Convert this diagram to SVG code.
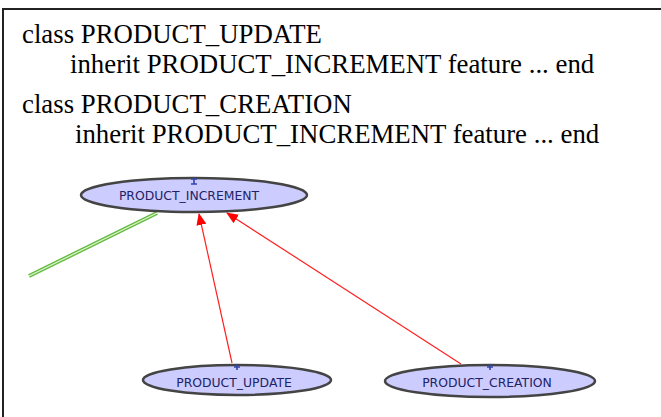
<svg xmlns="http://www.w3.org/2000/svg" width="661" height="417" viewBox="0 0 661 417">
<style>
.code{font-family:"Liberation Serif","Times New Roman",serif;font-size:26.8px;fill:#000}
.node ellipse{fill:#ccccff;stroke:#444;stroke-width:2.5}
.node text{font-family:"DejaVu Sans","Liberation Sans",sans-serif;font-size:12.4px;fill:#222266;text-anchor:middle}
.mark{stroke:#3344aa;stroke-width:1.6}
.inh{stroke:#ff2020;stroke-width:1.2;fill:none;marker-end:url(#ah)}
</style>
<defs>
<marker id="ah" viewBox="0 0 12 10" refX="11" refY="5" markerWidth="12" markerHeight="10" markerUnits="userSpaceOnUse" orient="auto">
<path d="M0,0 L12,5 L0,10 z" fill="#ff0000"/>
</marker>
</defs>
<rect width="661" height="417" fill="#fff"/>
<path d="M3,417 V9 H661" fill="none" stroke="#222" stroke-width="2"/>
<g id="code-text">
<text class="code" x="22" y="43">class PRODUCT_UPDATE</text>
<text class="code" x="70" y="73">inherit PRODUCT_INCREMENT feature ... end</text>
<text class="code" x="22" y="113">class PRODUCT_CREATION</text>
<text class="code" x="75" y="143">inherit PRODUCT_INCREMENT feature ... end</text>
</g>
<g id="connectors">
<line x1="157" y1="213" x2="29" y2="276" stroke="#66bb44" stroke-width="4"/>
<line x1="157" y1="213" x2="29" y2="276" stroke="#ddf5cc" stroke-width="1.2"/>
<line class="inh" x1="232" y1="363" x2="199" y2="214"/>
<line class="inh" x1="461" y1="364" x2="227" y2="213"/>
</g>
<g id="PRODUCT_INCREMENT" class="node">
<ellipse cx="194" cy="195" rx="113" ry="17"/>
<path class="mark" d="M191,179 h6 M191,184 h6 M194,179 v5"/>
<text x="189" y="200">PRODUCT_INCREMENT</text>
</g>
<g id="PRODUCT_UPDATE" class="node">
<ellipse cx="237" cy="380" rx="94" ry="15"/>
<path class="mark" d="M234,367 h6 M237,364 v6"/>
<text x="234" y="386.5">PRODUCT_UPDATE</text>
</g>
<g id="PRODUCT_CREATION" class="node">
<ellipse cx="490" cy="381" rx="105" ry="16" stroke-width="3.5"/>
<path class="mark" d="M487,367 h6 M490,364 v6"/>
<text x="487" y="387">PRODUCT_CREATION</text>
</g>
</svg>
